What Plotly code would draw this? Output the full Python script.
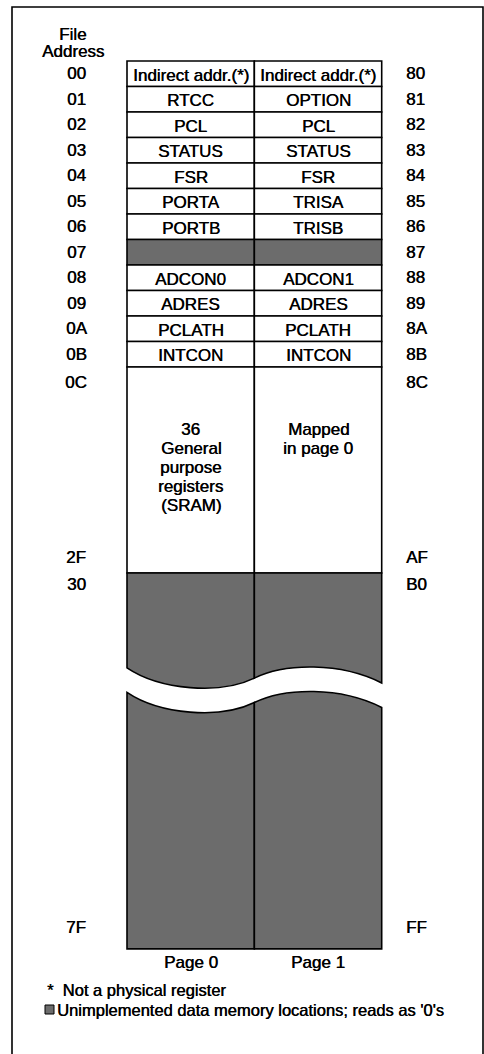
import plotly.graph_objects as go

# register file map data
addr_page0 = ["00", "01", "02", "03", "04", "05", "06", "07", "08", "09", "0A", "0B"]
addr_page1 = ["80", "81", "82", "83", "84", "85", "86", "87", "88", "89", "8A", "8B"]
regs_page0 = ["Indirect addr.(*)", "RTCC", "PCL", "STATUS", "FSR", "PORTA", "PORTB",
              None, "ADCON0", "ADRES", "PCLATH", "INTCON"]
regs_page1 = ["Indirect addr.(*)", "OPTION", "PCL", "STATUS", "FSR", "TRISA", "TRISB",
              None, "ADCON1", "ADRES", "PCLATH", "INTCON"]
pages = ["Page 0", "Page 1"]

# general purpose block and unimplemented block (display rows)
gpr_span = (12, 20.08)
gpr_addr0 = ("0C", "2F")
gpr_addr1 = ("8C", "AF")
gpr_text0 = ["36", "General", "purpose", "registers", "(SRAM)"]
gpr_text1 = ["Mapped", "in page 0"]
unimpl_span = (20.08, 34.82)
unimpl_addr0 = ("30", "7F")
unimpl_addr1 = ("B0", "FF")

legend_lines = ["Not a physical register", "Unimplemented data memory locations; reads as '0's"]

W, H = 484, 1054
X0, COL_W = 127, 127.35   # px of page 0 left edge, column width
Y0, ROW_H = 61, 25.5      # px of table top, row height
SHADE = "#6c6c6c"
FONT = dict(family="Liberation Sans, Arial, sans-serif", size=17, color="black",
            shadow="0.45px 0px 0px #000")
LW = 1.6


def ux(px):
    return (px - X0) / COL_W


def uy(py):
    return (py - Y0) / ROW_H


fig = go.Figure()
shapes = []
ann = []


def text(x, y, s, xanchor="center", font=FONT):
    ann.append(dict(x=x, y=y, text=s, showarrow=False, xanchor=xanchor, yanchor="middle",
                    font=font))


# single register rows
for i in range(len(regs_page0)):
    for col, name in enumerate([regs_page0[i], regs_page1[i]]):
        shapes.append(dict(type="rect", x0=col, x1=col + 1, y0=i, y1=i + 1,
                           fillcolor=SHADE if name is None else "white",
                           line=dict(color="black", width=LW), layer="above"))
        if name:
            text(col + 0.5, i + 0.55, name)
    text(ux(76), i + 0.5, addr_page0[i])
    text(ux(404), i + 0.5, addr_page1[i], xanchor="left")

# general purpose block
g0, g1 = gpr_span
for col in (0, 1):
    shapes.append(dict(type="rect", x0=col, x1=col + 1, y0=g0, y1=g1, fillcolor="white",
                       line=dict(color="black", width=LW)))
step = 19 / ROW_H
for k, s in enumerate(gpr_text0):
    text(0.5, g0 + 2.47 + k * step, s)
for k, s in enumerate(gpr_text1):
    text(1.5, g0 + 2.47 + k * step, s)
text(ux(76), g0 + 0.6, gpr_addr0[0])
text(ux(404), g0 + 0.6, gpr_addr1[0], xanchor="left")
text(ux(76), g1 - 0.6, gpr_addr0[1])
text(ux(404), g1 - 0.6, gpr_addr1[1], xanchor="left")

# unimplemented block with a wavy break
u0, u1 = unimpl_span
d = 0.96
wl, wm, wr = 23.80, 24.20, 24.39
paths = [
    f"M 0,{u0} L 1,{u0} L 1,{wm} C 0.730,24.86 0.259,24.67 0,{wl} Z",
    f"M 1,{u0} L 2,{u0} L 2,{wr} C 1.673,23.57 1.241,23.61 1,{wm} Z",
    f"M 0,{wl+d} C 0.259,{24.67+d} 0.730,{24.86+d} 1,{wm+d} L 1,{u1} L 0,{u1} Z",
    f"M 1,{wm+d} C 1.241,{23.61+d} 1.673,{23.57+d} 2,{wr+d} L 2,{u1} L 1,{u1} Z",
]
for p in paths:
    shapes.append(dict(type="path", path=p, fillcolor=SHADE,
                       line=dict(color="black", width=LW)))
text(ux(76), u0 + 0.45, unimpl_addr0[0])
text(ux(404), u0 + 0.45, unimpl_addr1[0], xanchor="left")
text(ux(76), u1 - 0.85, unimpl_addr0[1])
text(ux(404), u1 - 0.85, unimpl_addr1[1], xanchor="left")

# page labels
for col, s in enumerate(pages):
    text(col + 0.5, uy(962), s)

# header
text(ux(72.5), uy(34), "File")
text(ux(72.5), uy(51.5), "Address")

# legend
leg_font = dict(FONT, size=16.5)
text(ux(45), uy(990), "*  " + legend_lines[0], font=leg_font)
ann[-1]["xanchor"] = "left"
shapes.append(dict(type="rect", x0=ux(45), x1=ux(54), y0=uy(1005), y1=uy(1014),
                   fillcolor=SHADE, line=dict(color="black", width=1)))
text(ux(55), uy(1010), legend_lines[1], xanchor="left", font=leg_font)

# outer frame
shapes.append(dict(type="rect", xref="paper", yref="paper", x0=12 / W, x1=483 / W,
                   y0=-0.01, y1=1 - 7 / H, line=dict(color="black", width=1.6)))

fig.update_layout(
    width=W, height=H, margin=dict(l=0, r=0, t=0, b=0),
    paper_bgcolor="white", plot_bgcolor="white", showlegend=False,
    xaxis=dict(range=[ux(0), ux(W)], visible=False, fixedrange=True),
    yaxis=dict(range=[uy(H), uy(0)], visible=False, fixedrange=True),
    shapes=shapes, annotations=ann,
)
fig.write_html("out.html", config={"displayModeBar": False},
               post_script="document.body.style.margin='0';document.body.style.overflow='hidden';")
